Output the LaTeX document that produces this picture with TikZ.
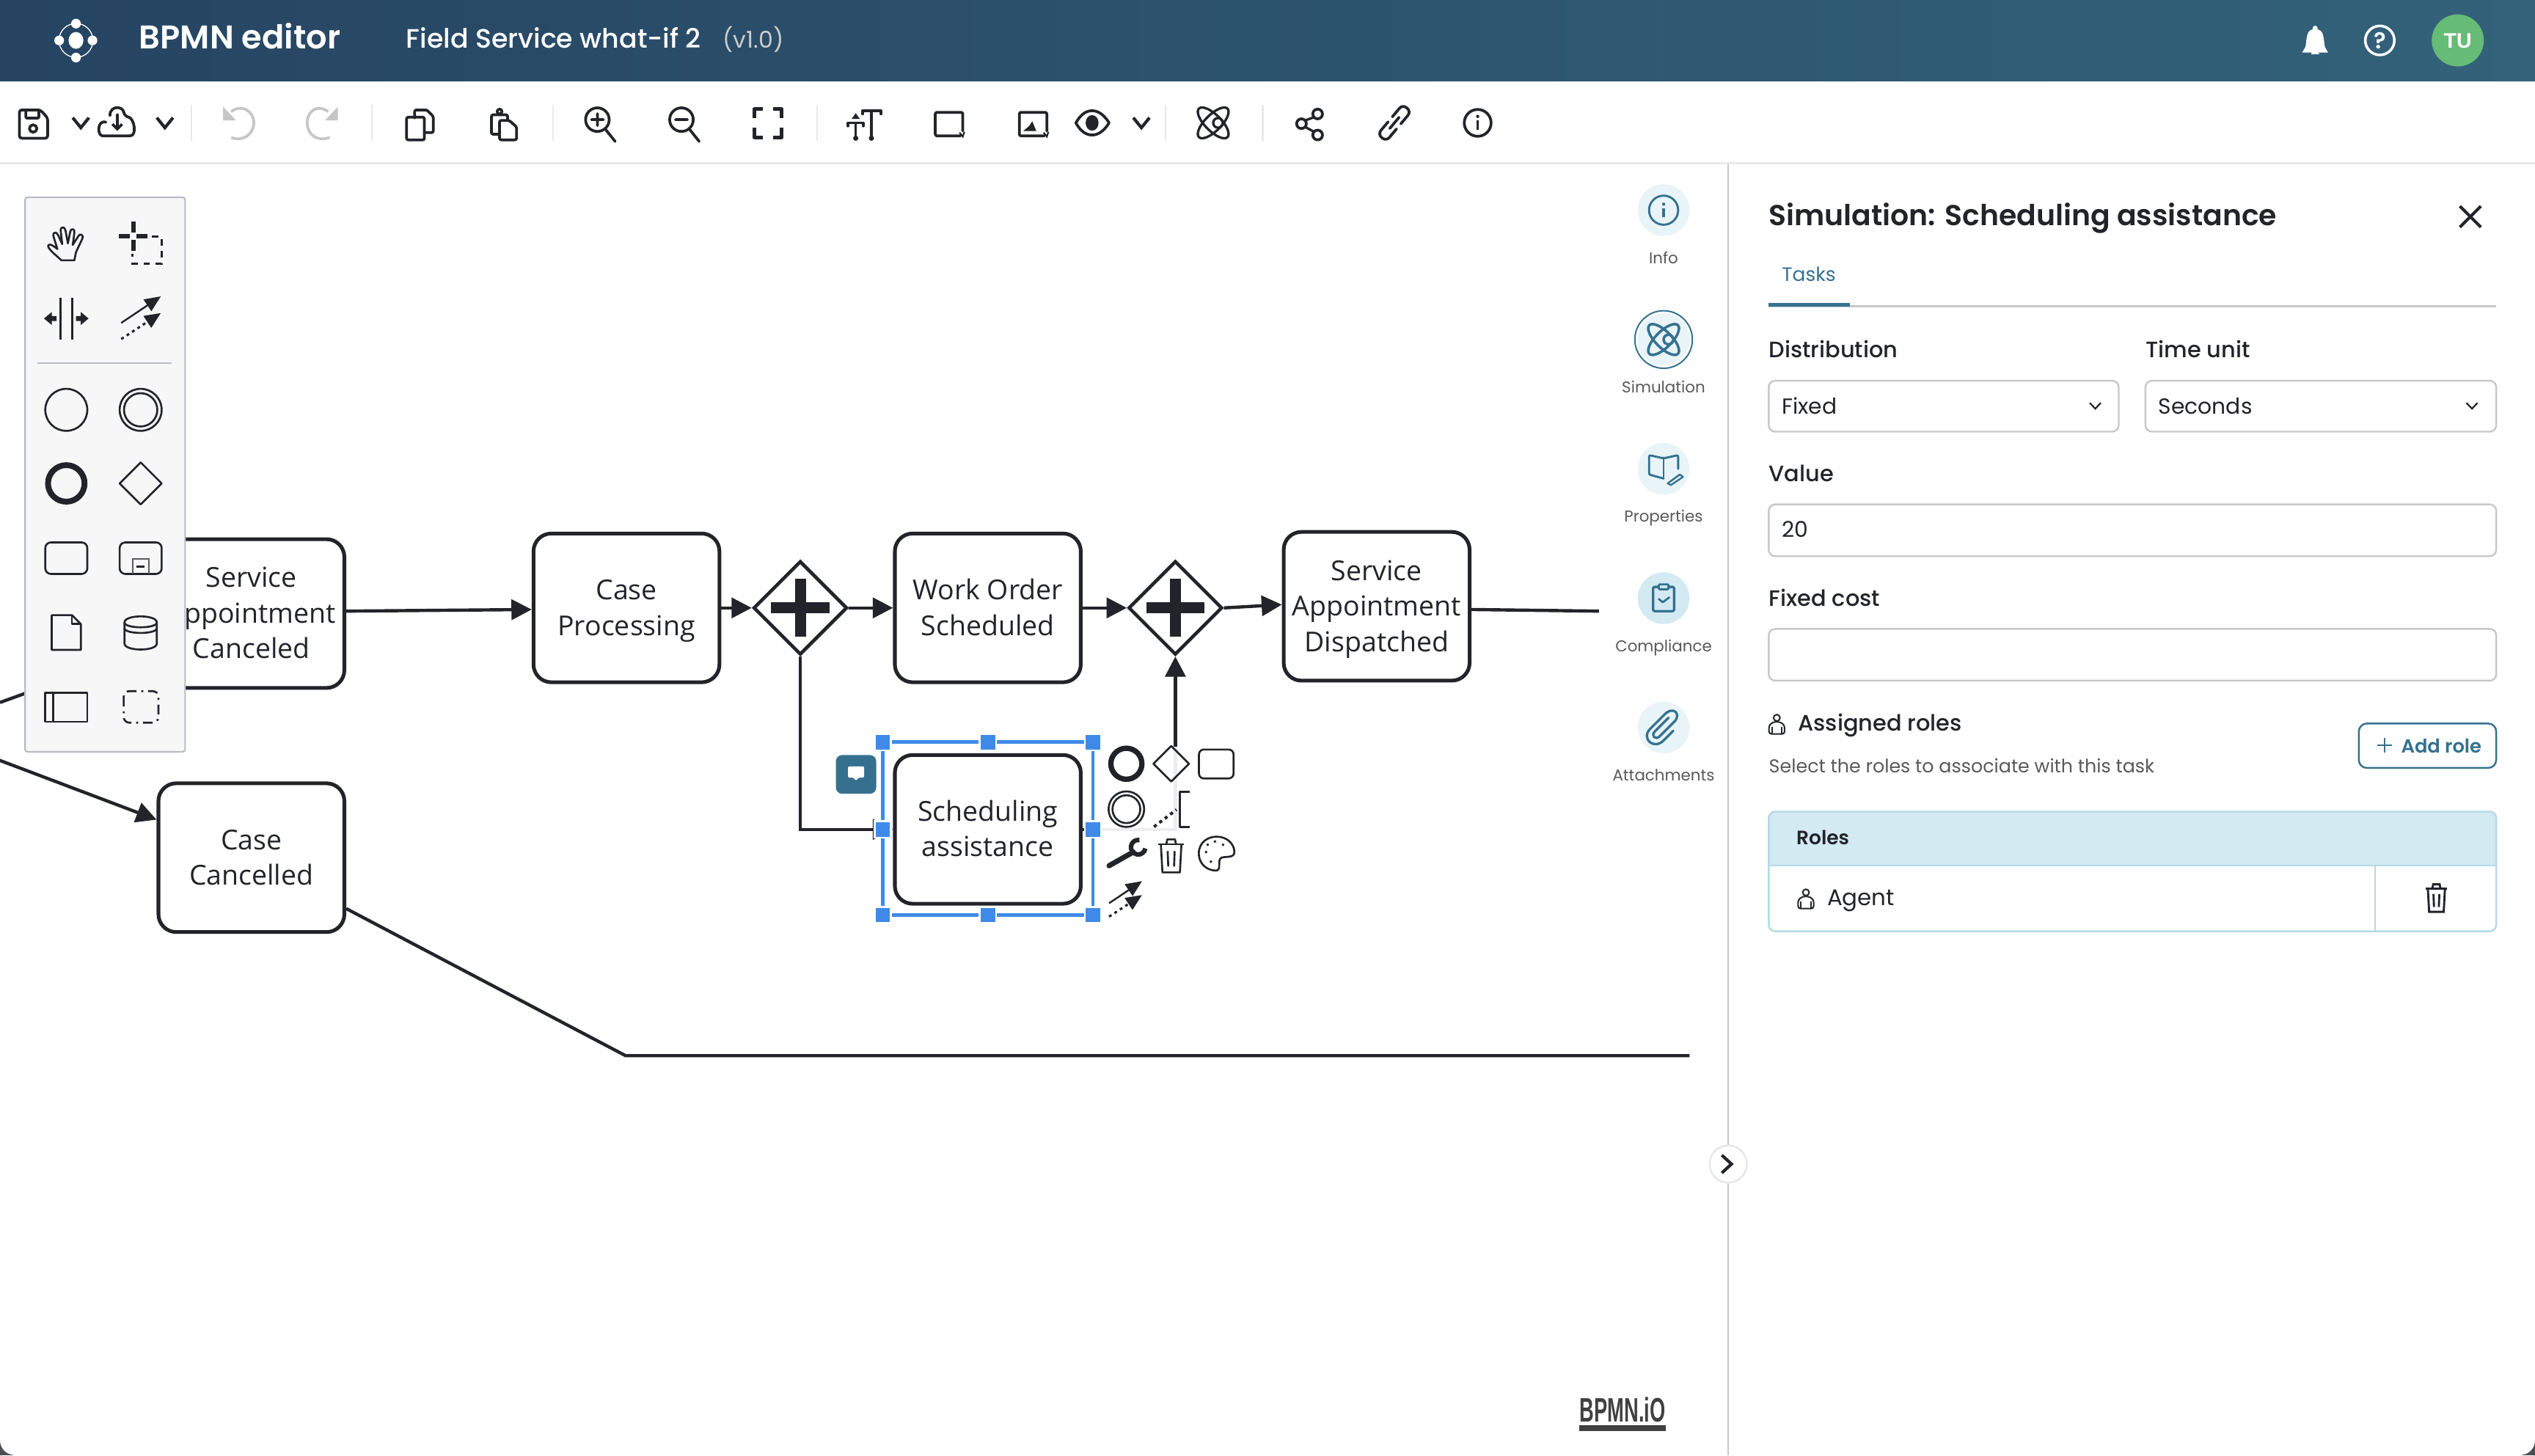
\documentclass[tikz,border=0pt]{standalone}
\usepackage{fontspec}
\usepackage{graphicx}
\usetikzlibrary{arrows.meta,shapes.geometric,calc}
\setmainfont{Poppins}
\newfontfamily\popmed{Poppins Medium}
\newfontfamily\popsemi{Poppins SemiBold}
\newfontfamily\diagfont{Open Sans}
\newfontfamily\logofont{Liberation Sans}
\definecolor{ink}{HTML}{22242A}
\definecolor{teal}{HTML}{35718E}
\definecolor{pale}{HTML}{E8F4F8}
\definecolor{lblue}{HTML}{D3EAF3}
\definecolor{tblb}{HTML}{B4D9E6}
\definecolor{gline}{HTML}{C8C8C8}
\definecolor{sep}{HTML}{E8E8E8}
\definecolor{palfill}{HTML}{F7F7F8}
\definecolor{palline}{HTML}{B9BCC6}
\definecolor{selb}{HTML}{3F8AE8}
\definecolor{undog}{HTML}{C6C6C6}
\definecolor{HDl}{HTML}{264462}
\definecolor{HDr}{HTML}{33627A}
\definecolor{avatar}{HTML}{66BB77}
\definecolor{cornerc}{HTML}{4A4F50}
\tikzset{
  task/.style={draw=ink,fill=white,line width=2.3pt,rounded corners=11pt,minimum width=115pt,minimum height=92pt,inner sep=0pt,align=center,text=ink,font=\diagfont\fontsize{17}{22}\selectfont},
  gate/.style={draw=ink,fill=white,line width=2.1pt,diamond,aspect=1,minimum width=58pt,minimum height=58pt,inner sep=0pt},
  flow/.style={draw=ink,line width=2pt,-{Triangle[length=12.5pt,width=12.5pt]}},
  line/.style={draw=ink,line width=2pt},
  ico/.style={draw=ink,line width=1.7pt,line join=round,line cap=round},
  thin ico/.style={draw=ink,line width=1.2pt,line join=round},
  gico/.style={draw=undog,line width=1.7pt,line join=round},
  t/.style={anchor=base west,inner sep=0pt,text=ink},
  c/.style={anchor=base,inner sep=0pt,text=ink},
  field/.style={draw=gline,line width=1.1pt,rounded corners=4pt,fill=white},
  handle/.style={fill=selb,draw=white,line width=1.1pt,minimum size=10pt,inner sep=0pt},
  sidelbl/.style={c,text=black!65,font=\fontsize{9.7}{12}\selectfont},
  tealico/.style={draw=teal,line width=1.3pt,line join=round,line cap=round},
  lbl/.style={t,font=\popmed\fontsize{13.8}{16}\selectfont},
  val/.style={t,font=\fontsize{13.5}{16}\selectfont},
}
\newcommand{\topst}{\rule{0pt}{18.4pt}\strut}
\newcommand{\icoAtom}[3]{%
  \begin{scope}[shift={(#1,#2)}]
    \draw[#3,rotate=45] (0,0) ellipse (12.5 and 5);
    \draw[#3,rotate=-45] (0,0) ellipse (12.5 and 5);
    \draw[#3] (3,0) circle (3);
  \end{scope}}
\newcommand{\icoPerson}[3]{%
  \begin{scope}[shift={(#1,#2)}]
    \draw[#3] (0,-4) circle (2);
    \draw[#3,rounded corners=1.5pt] (-4.8,6) -- (-4.8,0.5) -- (-2,-1.5) -- (2,-1.5) -- (4.8,0.5) -- (4.8,6) -- cycle;
    \draw[#3] (-3,6) -- (-3,1.5) (3,6) -- (3,1.5);
  \end{scope}}
\newcommand{\icoTrash}[4]{%
  \begin{scope}[shift={(#1,#2)},scale=#4]
    \draw[#3] (-6.5,-5.5) -- (6.5,-5.5);
    \draw[#3] (-2.5,-5.5) -- (-2,-8) -- (2,-8) -- (2.5,-5.5);
    \draw[#3] (-5.3,-5.5) -- (-4.5,9) -- (4.5,9) -- (5.3,-5.5) ;
    \draw[#3] (-1.8,-2) -- (-1.5,6) (1.8,-2) -- (1.5,6);
  \end{scope}}
\newcommand{\icoCross}[1]{%
  \fill[ink] ([xshift=-3.4pt,yshift=-18pt]#1.center) rectangle ([xshift=3.4pt,yshift=18pt]#1.center);
  \fill[ink] ([xshift=-18pt,yshift=-3.4pt]#1.center) rectangle ([xshift=18pt,yshift=3.4pt]#1.center);}
\newcommand{\icoArrows}[2]{%
  \begin{scope}[shift={(#1)},scale=#2]
    \draw[ink,line width=1.1pt,-{Triangle[length=10pt,width=8.5pt]}] (-10,2.7) -- (10.4,-11);
    \draw[ink,line width=1.4pt,dash pattern=on 1.8pt off 2.2pt,-{Triangle[length=10pt,width=8.5pt]}] (-10,11) -- (10.4,-2.4);
  \end{scope}}
\newcommand{\icoChev}[2]{\draw[ico,line width=1.9pt,line cap=butt,line join=miter] (#1-5,#2-3.2) -- (#1,#2+3) -- (#1+5,#2-3.2);}
\newcommand{\icoSmallChev}[2]{\draw[ink,line width=1pt] (#1-3.4,#2-1.8) -- (#1,#2+1.8) -- (#1+3.4,#2-1.8);}
\begin{document}
\begin{tikzpicture}[x=1pt,y=-1pt]
\useasboundingbox (0,0) rectangle (1568,900.15);
\fill[white] (0,0) rectangle (1568,900.15);
% ---- diagram
\node[task] (sac) at (155.5,379.5) {\topst Service\\\strut Appointment\\\strut Canceled};
\node[task] (cc)  at (155.5,530.5) {\topst Case\\\strut Cancelled};
\node[task] (cp)  at (387.5,376) {\topst Case\\\strut Processing};
\node[task] (wo)  at (611,376) {\topst Work Order\\\strut Scheduled};
\node[task] (dis) at (851.5,375) {\topst Service\\\strut Appointment\\\strut Dispatched};
\node[task] (sa)  at (611,513) {\topst Scheduling\\\strut assistance};
\node[gate] (g1) at (495,376) {};
\node[gate] (g2) at (727,376) {};
\icoCross{g1}
\icoCross{g2}
\coordinate (inA) at (0,434.5);
\coordinate (inB) at (-1,470);
\coordinate (outA) at (989,378);
\coordinate (b1) at (495,513);
\coordinate (b2) at (727,513);
\coordinate (b3) at (387,653);
\coordinate (outB) at (1045,653);
\draw[flow] ([yshift=1.5pt]sac.east) -- ([yshift=-1pt]cp.west);
\draw[flow] (cp.east) -- (g1.west);
\draw[flow] (g1.east) -- (wo.west);
\draw[flow] (wo.east) -- (g2.west);
\draw[flow] (g2.east) -- ([yshift=1pt]dis.west);
\draw[line] ([yshift=-2pt]dis.east) -- (outA);
\draw[flow] (g1.south) -- (b1) -- (sa.west);
\draw[flow] (sa.east) -- (b2) -- (g2.south);
\draw[flow] (inA) -- ([yshift=-20pt]sac.west);
\draw[flow] (inB) -- ([yshift=23.5pt]cc.west);
\draw[line,line join=round] ([yshift=-31.5pt]cc.east) -- (b3) -- (outB);
% ---- selection
\draw[selb,line width=2pt] (546,459) rectangle (676,566);
\node[handle] (h1) at (546,459) {};
\node[handle] (h2) at (611,459) {};
\node[handle] (h3) at (676,459) {};
\node[handle] (h4) at (546,513) {};
\node[handle] (h5) at (676,513) {};
\node[handle] (h6) at (546,566) {};
\node[handle] (h7) at (611,566) {};
\node[handle] (h8) at (676,566) {};
\fill[teal,rounded corners=4pt] (517,467) rectangle (542,491);
\fill[white,rounded corners=1pt] (524.5,474) -- (534.5,474) -- (534.5,481) -- (531,481) -- (529.5,483) -- (528,481) -- (524.5,481) -- cycle;
% ---- context pad
\fill[white,opacity=.92] (681,462) rectangle (767,571);
\draw[ink!95!black,line width=3.3pt] (696.7,472.4) circle (9.6);
\draw[thin ico] (724.4,461.4) -- (735.4,472.4) -- (724.4,483.4) -- (713.4,472.4) -- cycle;
\draw[thin ico,rounded corners=3pt] (741.6,463.6) rectangle (763,481.5);
\draw[thin ico] (696.7,500.5) circle (11);
\draw[thin ico] (696.7,500.5) circle (8.6);
\draw[ink,line width=1.8pt,dash pattern=on 2pt off 2.2pt] (713.8,511.4) -- (727.7,500.8);
\draw[thin ico] (736,489.7) -- (729.8,489.7) -- (729.8,511.4) -- (736,511.4);
\draw[ink,line width=3.2pt,line cap=round] (686,535.5) -- (701,527);
\draw[ink,line width=2.8pt] (704.8,519.6) arc[start angle=-80,end angle=-350,radius=4.5];
\icoTrash{724.4}{528.8}{thin ico}{1.2}
\draw[thin ico] (752,538.5) .. controls (744,538) and (741.5,532) .. (741.5,528) .. controls (741.5,521) and (747,517.5) .. (752.5,517.5) .. controls (759,517.5) and (763.5,522) .. (763.5,527) .. controls (763.5,531) and (758,529.5) .. (755.5,530.5) .. controls (752.5,532) and (756,538.5) .. (752,538.5) -- cycle;
\foreach \p in {(746,527),(747,522.5),(751.5,520.5),(756.5,522.5),(749,533)} \fill[ink] \p circle (.9);
\icoArrows{696,556}{1}
% ---- palette
\fill[palfill,draw=palline,line width=1pt,rounded corners=1.5pt] (15.5,122) rectangle (114.5,465);
\draw[palline,line width=.8pt] (23,224.5) -- (106,224.5);
\draw[thin ico] (38,161) -- (33,156.5) .. controls (31,154.5) and (29,152.5) .. (30,151.5) .. controls (31.5,150.5) and (34,153) .. (35.5,154) -- (33,146) .. controls (32.5,143.5) and (35,143) .. (36,145.5) -- (38.5,151) -- (37.5,142.5) .. controls (37.5,140) and (40,140) .. (40.5,142.5) -- (42,150.5) -- (43.5,143) .. controls (44,141) and (46.5,141.5) .. (46,144) -- (45,151.5) -- (48.5,146) .. controls (49.5,144) and (52,145.5) .. (51,147.5) -- (47,156) -- (46,161) -- cycle;
\draw[ink,line width=2.8pt] (82.4,137.2) -- (82.4,144) (82.4,148.4) -- (82.4,155.3) (73.5,146.2) -- (80.2,146.2) (84.6,146.2) -- (91.3,146.2);
\draw[ink,line width=1.3pt,dash pattern=on 4pt off 3.5pt] (94,146.3) -- (100,146.3) -- (100,163) -- (82,163) -- (82,157);
\draw[ink,line width=1.4pt] (37.4,184) -- (37.4,210) (44.5,184) -- (44.5,210);
\fill[ink] (27.2,197) -- (32,193) -- (32,195.5) -- (35,195.5) -- (35,198.5) -- (32,198.5) -- (32,201) -- cycle;
\fill[ink] (54.8,197) -- (50,193) -- (50,195.5) -- (47,195.5) -- (47,198.5) -- (50,198.5) -- (50,201) -- cycle;
\icoArrows{87,196.5}{1.2}
\draw[thin ico] (41,253.5) circle (13);
\draw[thin ico] (87,253.5) circle (13);
\draw[thin ico] (87,253.5) circle (10.3);
\draw[ink,line width=3.6pt] (41,299) circle (11.3);
\draw[thin ico] (87,286) -- (100,299) -- (87,312) -- (74,299) -- cycle;
\draw[thin ico,rounded corners=3.5pt] (28,335.5) rectangle (54,355);
\draw[thin ico,rounded corners=3.5pt] (74,335.5) rectangle (100,355);
\draw[ink!75,line width=.9pt] (82,355) -- (82,345.5) -- (92,345.5) -- (92,355);
\draw[ink,line width=1pt] (84.5,350.5) -- (89.5,350.5);
\draw[thin ico] (32,380.5) -- (44.5,380.5) -- (50,386) -- (50,402) -- (32,402) -- cycle;
\draw[thin ico] (44.5,380.5) -- (44.5,386) -- (50,386);
\draw[thin ico] (77,385) .. controls (77,380) and (97,380) .. (97,385) -- (97,398) .. controls (97,403) and (77,403) .. (77,398) -- cycle;
\draw[thin ico] (77,385) .. controls (77,389) and (97,389) .. (97,385);
\draw[thin ico] (77,388.5) .. controls (77,392.5) and (97,392.5) .. (97,388.5);
\draw[thin ico] (28,428.5) rectangle (54,446.5);
\draw[thin ico] (33,428.5) -- (33,446.5);
\draw[ink,line width=1.2pt,rounded corners=3.5pt,dash pattern=on 6pt off 3pt on 1.2pt off 3pt] (76.5,427.5) rectangle (98,447);
% ---- header
\shade[left color=HDl,right color=HDr] (0,0) rectangle (1568,50);
\fill[white] (47,25) ellipse (4.6 and 5.2);
\foreach \p in {(47,14.6),(47,35.6),(36.6,25),(57.2,25)} \fill[white] \p circle (3);
\draw[white,line width=.6pt] (47,25) circle (10.5);
\node[t,text=white,font=\popsemi\fontsize{20.3}{24}\selectfont] (app) at (86,30) {BPMN editor};
\node[t,text=white,font=\popmed\fontsize{16.5}{20}\selectfont] (ttl) at (251,29.5) {Field Service what-if 2};
\node[t,text=white!80!black,font=\fontsize{14.3}{20}\selectfont] (ver) at (447,29.5) {(v1.0)};
\fill[white] (1424,32.5) -- (1440,32.5) -- (1438,29) .. controls (1437,24) and (1438,18) .. (1432,18) .. controls (1426,18) and (1427,24) .. (1426,29) -- cycle;
\fill[white] (1429.5,33.5) arc[start angle=180,end angle=360,radius=2.5] -- cycle;
\fill[white] (1432,17.5) circle (1.6);
\draw[white,line width=1.6pt] (1472,25) circle (9);
\node[c,text=white,font=\popsemi\fontsize{14}{14}\selectfont] (hlp) at (1472,30) {?};
\fill[avatar] (1520.2,25) circle (16.1);
\node[c,text=white,font=\logofont\bfseries\fontsize{13}{14}\selectfont] (ava) at (1520.2,29.7) {TU};
% ---- toolbar
\draw[sep,line width=1.2pt] (0,101) -- (1568,101);
\foreach \x in {118.5,230,342,505.5,721,781} \draw[sep,line width=1pt] (\x,65) -- (\x,87);
\draw[ico,rounded corners=1.5pt] (12,68) -- (25,68) -- (29.5,73) -- (29.5,85.5) -- (12,85.5) -- cycle;
\draw[ico,rounded corners=.5pt] (16,68) -- (16,73) -- (24,73) -- (24,68);
\draw[ico] (20.5,79.5) circle (2.3);
\icoChev{50}{76}
\draw[ico,rounded corners=2.5pt] (68,71.5) .. controls (68,65) and (76,65.5) .. (77,72) .. controls (83,73) and (85,84) .. (78,84) -- (66,84) .. controls (60,84) and (60,74) .. (65.5,75.5);
\draw[ico,-{Straight Barb[length=3pt,width=6pt]}] (72.5,71) -- (72.5,81);
\icoChev{102}{76}
\draw[gico] (143,69) .. controls (150,64) and (157,69) .. (157,76) .. controls (157,83) and (150,88) .. (143,85);
\fill[undog] (138,66) -- (138,74.5) -- (146,74.5) -- cycle;
\draw[gico] (203,69) .. controls (196,64) and (190,69) .. (190,76) .. controls (190,83) and (196,88) .. (204,85);
\fill[undog] (209,66) -- (209,74.5) -- (201,74.5) -- cycle;
\draw[ico,rounded corners=1pt] (256.5,73) -- (256.5,68) -- (264,68) -- (268,72) -- (268,82) -- (263,82);
\draw[ico,rounded corners=1pt] (251.5,72.5) rectangle (262.5,86.5);
\draw[ico,rounded corners=1pt] (308,83) -- (304,83) -- (304,71) -- (314,71) -- (314,74);
\draw[ico] (309,69) circle (1.5);
\draw[ico,rounded corners=1pt] (309,74.5) -- (315,74.5) -- (319.5,78.5) -- (319.5,86.5) -- (309,86.5) -- cycle;
\draw[ico] (369.5,74) circle (7.3);
\draw[ico] (374.5,80) -- (380.5,87.5) (365.8,74) -- (373.2,74) (369.5,70.3) -- (369.5,77.7);
\draw[ico] (421.5,74) circle (7.3);
\draw[ico] (426.5,80) -- (432.5,87.5) (417.8,74) -- (425.2,74);
\draw[ico,line width=2.2pt,line cap=butt] (466.5,73) -- (466.5,67.5) -- (472,67.5) (478,67.5) -- (483.5,67.5) -- (483.5,73) (483.5,79) -- (483.5,85) -- (478,85) (472,85) -- (466.5,85) -- (466.5,79);
\draw[ico,line width=1.6pt] (533.5,70.5) -- (533.5,68.5) -- (545,68.5) -- (545,70.5) (539,68.5) -- (539,85.5) (524.5,78) -- (524.5,76) -- (534,76) -- (534,78) (529.3,76) -- (529.3,85.5);
\fill[ink] (526.8,73.5) -- (529.3,70) -- (531.8,73.5) -- cycle;
\fill[ink] (529.3,85.5) circle (1.6) (539,85.5) circle (1.6);
\draw[ico,rounded corners=1pt] (594,84) -- (578.5,84) -- (578.5,69.5) -- (595.5,69.5) -- (595.5,81);
\draw[ink,line width=1pt] (593.5,82) -- (595.5,84.5) -- (596.5,81.5);
\draw[ico,rounded corners=1pt] (646,84) -- (630.5,84) -- (630.5,69.5) -- (647.5,69.5) -- (647.5,81);
\draw[ink,line width=1pt] (645.5,82) -- (647.5,84.5) -- (648.5,81.5);
\fill[ink] (633,81) -- (636.5,78) -- (638.5,75) -- (641,81) -- cycle;
\draw[ico] (665.5,76) .. controls (669,69.5) and (673,68.5) .. (675.5,68.5) .. controls (678,68.5) and (682,69.5) .. (686,76) .. controls (682,82.5) and (678,83.5) .. (675.5,83.5) .. controls (673,83.5) and (669,82.5) .. (665.5,76) -- cycle;
\fill[ink] (675.5,76) ellipse (4 and 4.8);
\icoChev{706}{76}
\icoAtom{750.4}{76}{ico,line width=1.5pt}
\draw[ico] (805,76.5) circle (3) (815,70.5) circle (3) (815,83.5) circle (3);
\draw[ico,line width=1.5pt] (807.2,74.5) -- (812.8,72.5) (807.2,78.5) -- (812.8,81.5);
\begin{scope}[shift={(862.5,76)},rotate=50]
\draw[ico,rounded corners=3pt] (-2,-3.4) -- (-12,-3.4) -- (-12,3.4) -- (-2,3.4);
\draw[ico,rounded corners=3pt] (2,-3.4) -- (12,-3.4) -- (12,3.4) -- (2,3.4);
\draw[ico] (-4.5,0) -- (4.5,0);
\end{scope}
\draw[ico] (914,76) circle (8.3);
\fill[ink] (914,72) circle (1);
\draw[ink,line width=1.5pt] (914,74.5) -- (914,80.5);
% ---- side rail
\draw[gline,line width=1.1pt] (1069,101.5) -- (1069,900.15);
\fill[pale] (1029,130) circle (16);
\draw[tealico] (1029,130) circle (9);
\fill[teal] (1029,126.3) circle (1);
\draw[teal,line width=1.4pt] (1029,128.8) -- (1029,134.5);
\node[sidelbl] (s1) at (1029,163) {Info};
\draw[teal,line width=.9pt] (1029,210) circle (17.8);
\fill[pale] (1029,210) circle (16.2);
\icoAtom{1029}{210}{tealico,line width=1.6pt}
\node[sidelbl] (s2) at (1029,243) {Simulation};
\fill[pale] (1029,290) circle (16);
\draw[tealico,rounded corners=1pt] (1029,296) -- (1020,293.5) -- (1020,281.5) -- (1029,283.5) -- (1038,281.5) -- (1038,290);
\draw[tealico] (1029,283.5) -- (1029,296);
\draw[tealico,line width=1.1pt] (1031.5,299) -- (1039,293.5) -- (1041,295) -- (1033.5,300) -- cycle;
\node[sidelbl] (s3) at (1029,323) {Properties};
\fill[lblue] (1029,370) circle (16);
\draw[tealico,line width=1.5pt,rounded corners=1pt] (1022.5,363) rectangle (1035.5,378);
\draw[tealico,rounded corners=.5pt,fill=lblue] (1026,361.5) rectangle (1032,364.5);
\draw[tealico] (1026,370.5) -- (1028.5,372.5) -- (1032.5,369.5);
\node[sidelbl] (s4) at (1029,403) {Compliance};
\fill[pale] (1029,450) circle (16);
\draw[tealico,line width=1.5pt,line cap=round] (1032,444) -- (1023.5,452.5) .. controls (1021,455) and (1024,458) .. (1026.5,455.5) -- (1036,446) .. controls (1040,441) and (1034.5,437) .. (1030,441.5) -- (1020.5,451) .. controls (1015,457) and (1023,464) .. (1029,458) -- (1035,452);
\node[sidelbl] (s5) at (1029,483) {Attachments};
% ---- logo & collapser
\node[t,text=black!75,font=\logofont\bfseries\fontsize{21}{21}\selectfont,xscale=.59,transform shape] (logo) at (977,879.5) {BPMN.iO};
\fill[black!75] (977,881.4) rectangle (1030.5,885);
\draw[sep,fill=white,line width=1.2pt] (1069,720) circle (11.5);
\draw[ink,line width=1.9pt] (1065,714.5) -- (1071,720) -- (1065,725.5);
% ---- right panel
\node[t,font=\popsemi\fontsize{17.85}{22}\selectfont] (hd) at (1094,139.5) {Simulation: Scheduling assistance};
\draw[ink,line width=1.8pt] (1521.5,127.5) -- (1534.5,140.5) (1534.5,127.5) -- (1521.5,140.5);
\node[t,text=teal,font=\fontsize{12}{14}\selectfont] (tab) at (1102,174) {Tasks};
\draw[gline,line width=1.1pt] (1094,189.5) -- (1544,189.5);
\draw[teal,line width=2pt] (1094,188.5) -- (1144,188.5);
\node[lbl] (l1) at (1094,221) {Distribution};
\node[lbl] (l2) at (1327,221) {Time unit};
\draw[field] (1094,235.5) rectangle (1310.5,267);
\draw[field] (1327,235.5) rectangle (1544,267);
\node[val] (v1) at (1102,256) {Fixed};
\node[val] (v2) at (1335,256) {Seconds};
\icoSmallChev{1296}{251}
\icoSmallChev{1529}{251}
\node[lbl] (l3) at (1094,298) {Value};
\draw[field] (1094,312) rectangle (1544,344);
\node[val] (v3) at (1102,332.5) {20};
\node[lbl] (l4) at (1094,375) {Fixed cost};
\draw[field] (1094,389) rectangle (1544,421);
\icoPerson{1099}{448}{ink,line width=.9pt}
\node[lbl] (l5) at (1112,452) {Assigned roles};
\node[t,text=black!65,font=\fontsize{11.5}{14}\selectfont] (sub) at (1094,478) {Select the roles to associate with this task};
\draw[teal,line width=1.1pt,rounded corners=5pt] (1459,447.5) rectangle (1544,475);
\draw[teal,line width=1.1pt] (1470.5,461) -- (1479.5,461) (1475,456.5) -- (1475,465.5);
\node[t,text=teal,font=\popsemi\fontsize{11.7}{14}\selectfont] (add) at (1485,465.5) {Add role};
\fill[lblue,rounded corners=4pt] (1094,502) rectangle (1544,540);
\fill[white] (1094,535.5) rectangle (1544,545);
\draw[tblb,line width=1.1pt,rounded corners=4pt] (1094,502) rectangle (1544,576);
\draw[tblb,line width=1pt] (1094,535.5) -- (1544,535.5) (1469,535.5) -- (1469,576);
\node[t,font=\popsemi\fontsize{12}{14}\selectfont] (rh) at (1111,522.5) {Roles};
\icoPerson{1117}{556}{ink,line width=.9pt}
\node[t,font=\fontsize{14}{16}\selectfont] (ag) at (1130,560) {Agent};
\icoTrash{1507}{555}{ink,line width=1.3pt}{1}
% ---- window corners
\fill[cornerc] (0,891) arc[start angle=180,end angle=90,radius=9] -- (0,900.15) -- cycle;
\fill[cornerc] (1568,891) arc[start angle=0,end angle=90,radius=9] -- (1568,900.15) -- cycle;
\end{tikzpicture}
\end{document}
